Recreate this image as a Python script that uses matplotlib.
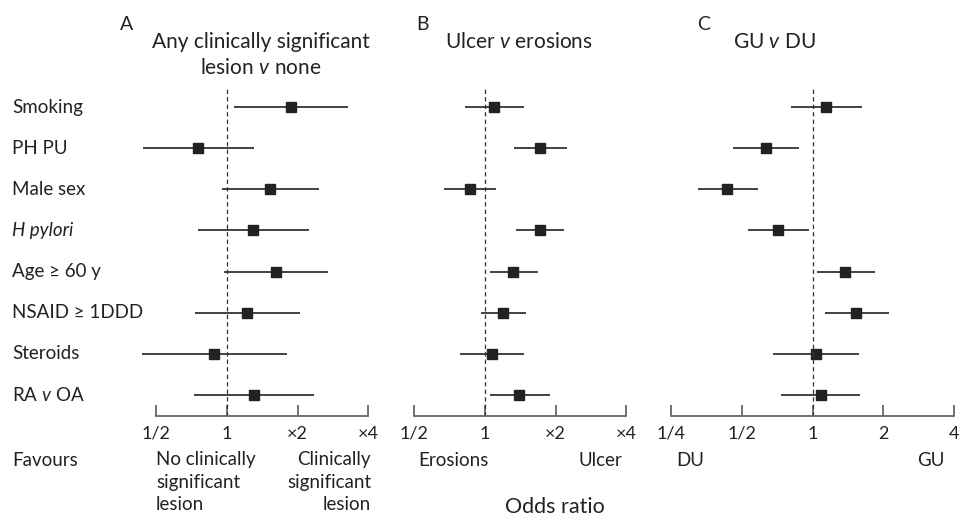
import numpy as np
import matplotlib
matplotlib.use("Agg")
import matplotlib.pyplot as plt

plt.rcParams['font.family'] = ['Lato', 'DejaVu Sans']
plt.rcParams['mathtext.fontset'] = 'custom'
plt.rcParams['mathtext.rm'] = 'Lato'
plt.rcParams['mathtext.it'] = 'Lato:italic'

rows = ["Smoking", "PH PU", "Male sex", "H pylori", "Age \u2265 60 y",
        "NSAID \u2265 1DDD", "Steroids", "RA $\\mathit{v}$ OA"]

# odds ratios: point, lower, upper
a_or = [1.87, 0.755, 1.53, 1.29, 1.62, 1.22, 0.88, 1.31]
a_lo = [1.075, 0.44, 0.95, 0.755, 0.97, 0.733, 0.433, 0.726]
a_hi = [3.28, 1.31, 2.47, 2.23, 2.70, 2.05, 1.81, 2.35]

b_or = [1.09, 1.72, 0.86, 1.71, 1.32, 1.19, 1.07, 1.40]
b_lo = [0.82, 1.33, 0.67, 1.35, 1.05, 0.96, 0.78, 1.05]
b_hi = [1.46, 2.24, 1.11, 2.18, 1.68, 1.49, 1.47, 1.89]

c_or = [1.14, 0.634, 0.433, 0.714, 1.38, 1.53, 1.03, 1.08]
c_lo = [0.81, 0.46, 0.324, 0.53, 1.04, 1.125, 0.68, 0.735]
c_hi = [1.62, 0.877, 0.584, 0.965, 1.85, 2.11, 1.58, 1.59]

ab_ticks = [0.5, 1, 2, 4]
ab_labels = ["1/2", "1", "\u00d72", "\u00d74"]
c_ticks = [0.25, 0.5, 1, 2, 4]
c_labels = ["1/4", "1/2", "1", "2", "4"]

W, H = 959, 517
fig = plt.figure(figsize=(W / 100, H / 100), dpi=100)

def px(x, y):
    return x / W, 1 - y / H

def panel(left, right, xlim, ticks, labels, orv, lo, hi):
    ax = fig.add_axes([left / W, 1 - 416 / H, (right - left) / W, (416 - 88) / H])
    ax.set_xscale('log', base=2)
    ax.set_xlim(*xlim)
    ax.set_ylim(7.51, -0.46)
    y = np.arange(len(orv))
    ax.hlines(y, lo, hi, color='#222222', lw=1.2)
    ax.plot(orv, y, 's', color='#222222', ms=6.8)
    ax.axvline(1, color='#333333', lw=0.9, ls=(0, (3.5, 2.5)))
    for s in ['top', 'left', 'right']:
        ax.spines[s].set_visible(False)
    ax.spines['bottom'].set_bounds(ticks[0], ticks[-1])
    ax.spines['bottom'].set_color('#666666')
    ax.spines['bottom'].set_linewidth(1.3)
    ax.set_xticks(ticks)
    ax.set_xticklabels(labels)
    ax.xaxis.set_minor_locator(matplotlib.ticker.NullLocator())
    ax.tick_params(axis='x', direction='in', length=8, width=1.3, color='#666666',
                   labelsize=13, pad=7, labelcolor='#222222')
    ax.set_yticks([])
    ax.patch.set_alpha(0)
    return ax

panel(135, 375, (0.406, 4.27), ab_ticks, ab_labels, a_or, a_lo, a_hi)
panel(393, 633, (0.406, 4.27), ab_ticks, ab_labels, b_or, b_lo, b_hi)
panel(665, 958, (0.235, 4.16), c_ticks, c_labels, c_or, c_lo, c_hi)

tc = '#222222'
fs = 13.5
for i, r in enumerate(rows):
    style = 'italic' if r == "H pylori" else 'normal'
    fig.text(*px(12, 107 + 41.1 * i), r, fontsize=fs, va='center', ha='left',
             color=tc, fontstyle=style)

# panel letters and titles
fig.text(*px(120, 24), "A", fontsize=14, va='center', color=tc)
fig.text(*px(416, 24), "B", fontsize=14, va='center', color=tc)
fig.text(*px(697, 24), "C", fontsize=14, va='center', color=tc)
fig.text(*px(261, 42), "Any clinically significant", fontsize=15, va='center', ha='center', color=tc)
fig.text(*px(261, 68), "lesion $\\mathit{v}$ none", fontsize=15, va='center', ha='center', color=tc)
fig.text(*px(445, 42), "Ulcer $\\mathit{v}$ erosions", fontsize=15, va='center', ha='left', color=tc)
fig.text(*px(733, 42), "GU $\\mathit{v}$ DU", fontsize=15, va='center', ha='left', color=tc)

# favours row
fig.text(*px(12, 460), "Favours", fontsize=fs, va='center', color=tc)
for j, line in enumerate(["No clinically", "significant", "lesion"]):
    fig.text(*px(156, 460 + 22.5 * j), line, fontsize=fs, va='center', ha='left', color=tc)
for j, line in enumerate(["Clinically", "significant", "lesion"]):
    fig.text(*px(371, 460 + 22.5 * j), line, fontsize=fs, va='center', ha='right', color=tc)
fig.text(*px(418, 460), "Erosions", fontsize=fs, va='center', ha='left', color=tc)
fig.text(*px(622, 460), "Ulcer", fontsize=fs, va='center', ha='right', color=tc)
fig.text(*px(676, 460), "DU", fontsize=fs, va='center', ha='left', color=tc)
fig.text(*px(944, 460), "GU", fontsize=fs, va='center', ha='right', color=tc)
fig.text(*px(555, 507), "Odds ratio", fontsize=15.5, va='center', ha='center', color=tc)

fig.savefig("out.png", dpi=100)
